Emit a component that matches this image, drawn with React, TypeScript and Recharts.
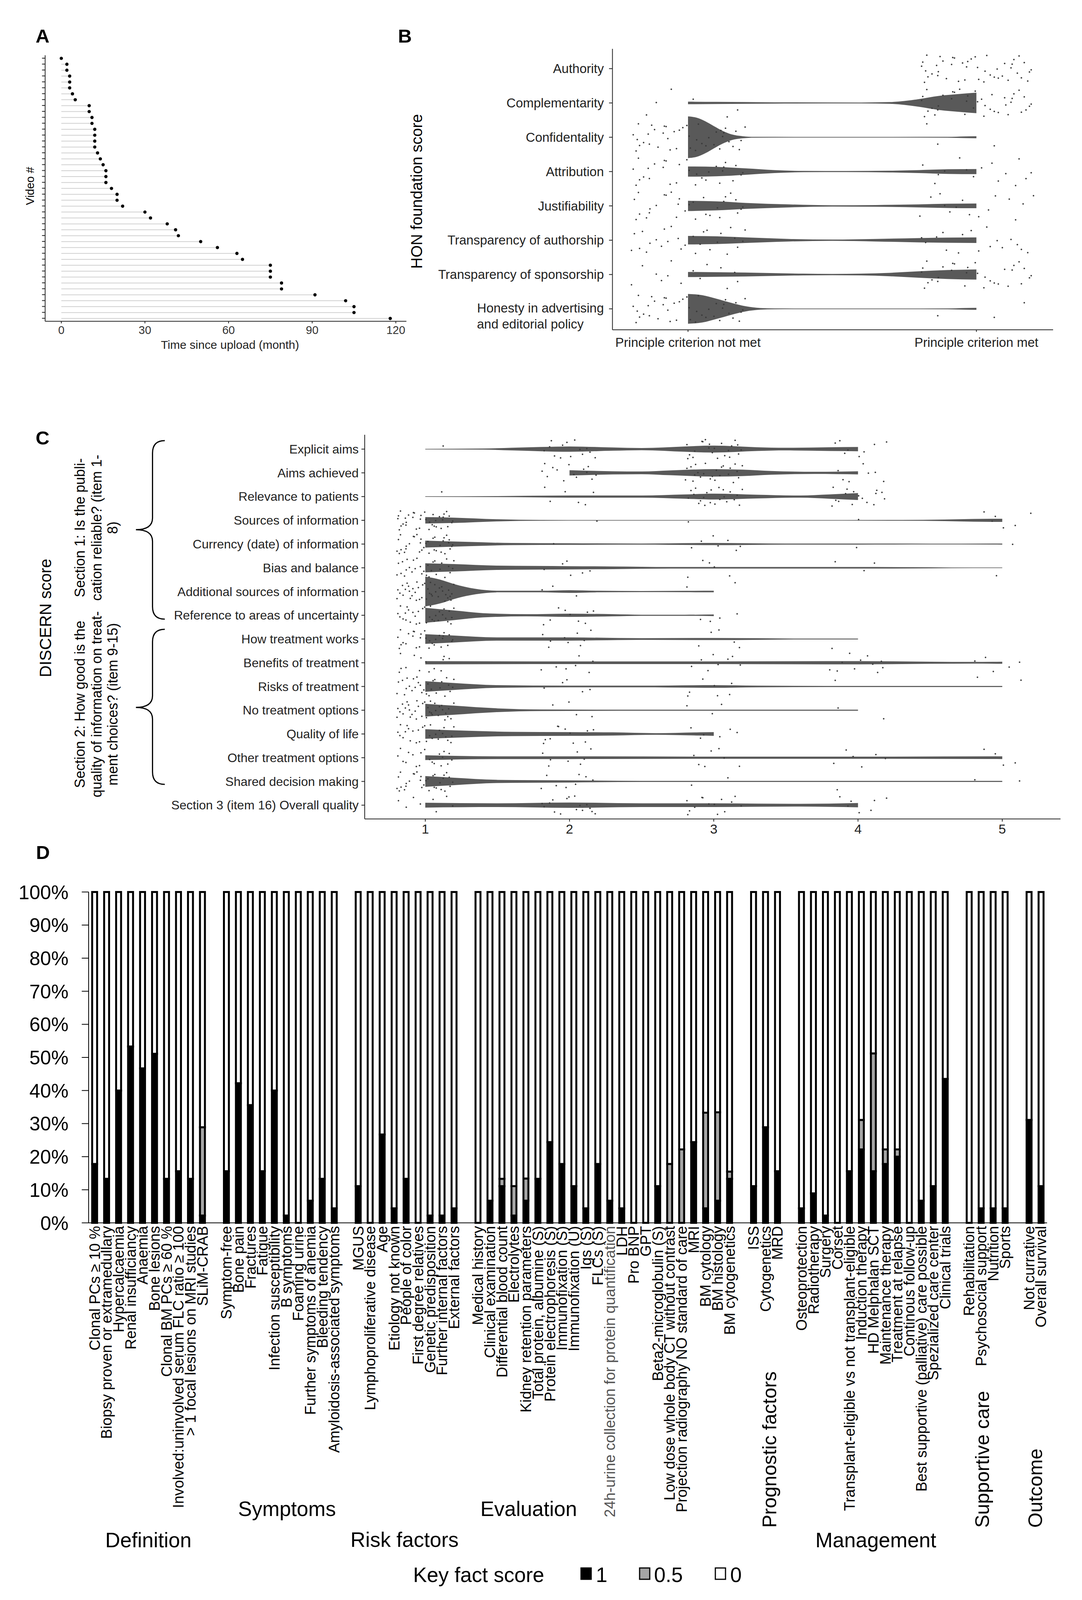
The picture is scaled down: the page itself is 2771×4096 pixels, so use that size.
import React from "react";
import { ComposedChart, BarChart, Bar, Area, Scatter, XAxis, YAxis } from "recharts";

const FONT = "'Liberation Sans', Arial, Helvetica, sans-serif";

// ---------- Panel A: time since upload per video ----------
const VIDEO_MONTHS = [
  0, 2, 2, 3, 3, 3, 4, 5, 10, 10, 11, 11, 12, 12, 12, 12, 13, 14, 15, 16, 16, 16, 18,
  20, 20, 22, 30, 32, 38, 41, 42, 50, 56, 63, 65, 75, 75, 75, 79, 79, 91, 102, 105, 105, 118,
];
const MONTH_TICKS = [0, 30, 60, 90, 120];

// ---------- Panel B: HON foundation score ----------
const HON_ITEMS = [
  "Authority",
  "Complementarity",
  "Confidentality",
  "Attribution",
  "Justifiability",
  "Transparency of authorship",
  "Transparency of sponsorship",
  "Honesty in advertising\nand editorial policy",
];
const HON_SCORES = [0, 1];
const HON_SCORE_LABELS = ["Principle criterion not met", "Principle criterion met"];
// videos per row scoring [not met, met]
const HON_COUNTS = [
  [0, 45], [6, 39], [42, 3], [30, 15], [30, 15], [28, 17], [14, 31], [42, 3],
];
// violin half-widths [score, width] (width in reference px, one row = 161 px)
const HON_VIOLINS: (number[][] | null)[] = [
  null,
  [[0, 6], [0.1, 5], [0.3, 3], [0.6, 2], [0.7, 4], [0.75, 9], [0.8, 18], [0.87, 33], [0.95, 43], [1, 48]],
  [[0, 98], [0.03, 92], [0.06, 75], [0.09, 52], [0.12, 30], [0.15, 14], [0.19, 5], [0.23, 2], [0.5, 1.5], [0.9, 2], [0.96, 4], [1, 5]],
  [[0, 24], [0.1, 22], [0.2, 15], [0.3, 7], [0.4, 3], [0.55, 2.5], [0.7, 4], [0.8, 7], [0.9, 11], [1, 12]],
  [[0, 24], [0.1, 21], [0.2, 14], [0.35, 7], [0.5, 3], [0.65, 4], [0.8, 7], [0.9, 10], [1, 11]],
  [[0, 20], [0.1, 18], [0.2, 13], [0.35, 6], [0.5, 3], [0.65, 6], [0.8, 10], [0.9, 12], [1, 13]],
  [[0, 12], [0.2, 9], [0.4, 4], [0.5, 3], [0.6, 4], [0.7, 8], [0.8, 15], [0.9, 21], [1, 24]],
  [[0, 70], [0.05, 64], [0.1, 47], [0.15, 28], [0.2, 12], [0.25, 4], [0.3, 2], [0.6, 1.5], [0.9, 2], [0.96, 4], [1, 5]],
];
const HON_ROW_PX = 161;

// ---------- Panel C: DISCERN score ----------
const DISCERN_ITEMS = [
  "Explicit aims",
  "Aims achieved",
  "Relevance to patients",
  "Sources of information",
  "Currency (date) of information",
  "Bias and balance",
  "Additional sources of information",
  "Reference to areas of uncertainty",
  "How treatment works",
  "Benefits of treatment",
  "Risks of treatment",
  "No treatment options",
  "Quality of life",
  "Other treatment options",
  "Shared decision making",
  "Section 3 (item 16) Overall quality",
];
const DISCERN_SCORES = [1, 2, 3, 4, 5];
// videos per row scoring 1..5
const DISCERN_COUNTS = [
  [1, 14, 22, 8, 0], [0, 14, 24, 7, 0], [1, 6, 22, 16, 0], [36, 1, 1, 1, 6],
  [35, 1, 7, 1, 1], [30, 6, 5, 3, 1], [40, 3, 2, 0, 0], [32, 9, 4, 0, 0],
  [30, 9, 5, 1, 0], [14, 7, 8, 11, 5], [30, 5, 7, 1, 2], [36, 4, 3, 2, 0],
  [28, 11, 6, 0, 0], [20, 8, 7, 6, 4], [32, 8, 2, 1, 2], [8, 16, 14, 7, 0],
];
// violin half-widths [score, width] (width in reference px, one row = 89 px)
const DISCERN_VIOLINS = [
  [[1, 1], [1.4, 2], [1.6, 5], [1.8, 8], [2, 10], [2.3, 6], [2.5, 4], [2.8, 10], [3, 13], [3.3, 7], [3.5, 5], [3.8, 7], [4, 8]],
  [[2, 10], [2.3, 6], [2.5, 5], [2.7, 9], [3, 14], [3.2, 12], [3.4, 7], [3.7, 4], [4, 6]],
  [[1, 1], [1.5, 2], [2, 4], [2.5, 4], [2.8, 8], [3, 11], [3.3, 7], [3.6, 4], [3.8, 8], [4, 13]],
  [[1, 12], [1.2, 10], [1.5, 4], [1.8, 1.5], [2.5, 1], [3.5, 1], [4.3, 1.5], [4.6, 3], [4.8, 5], [5, 6]],
  [[1, 13], [1.3, 8], [1.6, 4], [2, 3], [2.5, 2], [3, 4], [3.5, 2], [4, 2], [4.5, 1.5], [5, 2]],
  [[1, 17], [1.2, 14], [1.5, 8], [2, 6], [2.3, 5], [2.7, 3], [3.2, 3], [4, 3], [4.5, 2], [4.8, 1], [5, 1]],
  [[1, 56], [1.1, 45], [1.2, 28], [1.35, 10], [1.5, 3], [1.8, 3], [2, 5], [2.2, 3], [2.5, 2], [2.8, 2.5], [3, 3]],
  [[1, 28], [1.2, 18], [1.4, 8], [1.7, 4], [2, 6], [2.3, 4], [2.5, 2], [2.8, 2], [3, 3]],
  [[1, 18], [1.2, 13], [1.5, 6], [2, 6], [2.5, 3], [3, 4], [3.3, 3], [3.6, 1.5], [4, 1.5]],
  [[1, 6], [2, 5], [3, 5], [4, 6], [4.5, 4], [4.8, 3], [5, 4]],
  [[1, 20], [1.2, 13], [1.5, 5], [2, 3], [2.5, 3], [3, 5], [3.3, 3], [4, 2], [5, 2]],
  [[1, 24], [1.2, 17], [1.5, 7], [1.8, 3], [2.5, 2], [3, 2], [4, 2]],
  [[1, 18], [1.3, 12], [1.6, 8], [2, 7], [2.3, 6], [2.6, 3], [2.9, 6], [3, 7]],
  [[1, 9], [1.5, 5], [2, 5], [3, 4], [4, 4], [5, 5]],
  [[1, 20], [1.2, 14], [1.5, 6], [2, 4], [2.5, 2], [3.5, 2], [5, 2]],
  [[1, 9], [1.5, 7], [2, 10], [2.5, 7], [3, 7], [3.3, 6], [3.6, 5], [4, 8]],
];
const DISCERN_ROW_PX = 89;

// hand-read jitter offsets (fractions of the jitter width/height)
const JITTER = [
  [0.62, -0.31], [-0.84, 0.57], [0.13, 0.92], [-0.41, -0.77], [0.95, 0.08], [-0.17, -0.12], [0.38, 0.66], [-0.66, 0.21],
  [0.74, -0.88], [-0.93, -0.45], [0.27, -0.58], [-0.05, 0.35], [0.51, 0.14], [-0.72, 0.83], [0.86, 0.49], [-0.29, -0.95],
  [0.09, -0.26], [-0.55, -0.03], [0.68, 0.97], [-0.98, 0.71], [0.33, -0.69], [-0.12, 0.61], [0.81, -0.14], [-0.46, 0.42],
  [0.21, 0.28], [-0.79, -0.61], [0.57, -0.47], [-0.35, 0.09], [0.99, -0.71], [-0.63, -0.84], [0.04, 0.75], [-0.24, -0.39],
  [0.45, 0.52], [-0.88, 0.16], [0.71, 0.31], [-0.09, -0.67], [0.18, -0.91], [-0.52, 0.69], [0.89, 0.86], [-0.69, -0.22],
  [0.36, 0.03], [-0.31, 0.88], [0.6, -0.05], [-0.95, -0.17], [0.24, 0.44], [-0.58, -0.53], [0.78, 0.64], [-0.02, -0.82],
  [0.49, -0.36], [-0.77, 0.37], [0.15, 0.18], [-0.43, -0.29], [0.92, 0.23], [-0.2, 0.79], [0.65, -0.63], [-0.86, -0.93],
  [0.31, 0.59], [-0.67, 0.48], [0.83, -0.42], [-0.15, -0.49], [0.55, 0.81], [-0.38, -0.74], [0.02, -0.08], [-0.9, 0.95],
];

// ---------- Panel D: key facts ----------
const DEFINITION_ITEMS = [
  "Clonal PCs ≥ 10 %", "Biopsy proven or extramedullary", "Hypercalcaemia", "Renal insufficiancy",
  "Anaemia", "Bone lesions", "Clonal BM PCs ≥ 60 %", "Involved:uninvolved serum FLC ratio ≥ 100",
  "> 1 focal lesions on MRI studies", "SLiM-CRAB",
];
const DEFINITION_ONE = [17.8, 13.3, 40.0, 53.3, 46.7, 51.1, 13.3, 15.6, 13.3, 2.2];
const DEFINITION_HALF = [0, 0, 0, 0, 0, 0, 0, 0, 0, 26.7];

const SYMPTOM_ITEMS = [
  "Symptom-free", "Bone pain", "Fractures", "Fatigue", "Infection  susceptibility", "B symptoms",
  "Foaming urine", "Further symptoms of anemia", "Bleeding tendency", "Amyloidosis-associated symptoms",
];
const SYMPTOM_ONE = [15.6, 42.2, 35.6, 15.6, 40.0, 2.2, 0, 6.7, 13.3, 4.4];
const SYMPTOM_HALF = [0, 0, 0, 0, 0, 0, 0, 0, 0, 0];

const RISK_ITEMS = [
  "MGUS", "Lymphoproliferative disease", "Age", "Etiology not known", "People of color",
  "First degree relatives", "Genetic predisposition", "Further internal factors", "External factors",
];
const RISK_ONE = [11.1, 0, 26.7, 4.4, 13.3, 0, 2.2, 2.2, 4.4];
const RISK_HALF = [0, 0, 0, 0, 0, 0, 0, 0, 0];

const EVALUATION_ITEMS = [
  "Medical history", "Clinical examination", "Differential blood count", "Electrolytes",
  "Kidney retention parameters", "Total protein, albumine (S)", "Protein electrophoresis (S)",
  "Immunofixation (S)", "Immunofixation (U)", "Igs (S)", "FLCs (S)",
  "24h-urine collection for protein quantification", "LDH", "Pro BNP", "GPT", "Beta2-microglobulin (S)",
  "Low dose whole body CT without contrast", "Projection radiography NO standard of care", "MRI",
  "BM cytology", "BM histology", "BM cytogenetics",
];
const EVALUATION_ONE = [0, 6.7, 11.1, 2.2, 6.7, 13.3, 24.4, 17.8, 11.1, 4.4, 17.8, 6.7, 4.4, 0, 0, 11.1, 0, 0, 24.4, 4.4, 6.7, 13.3];
const EVALUATION_HALF = [0, 0, 2.2, 8.9, 6.7, 0, 0, 0, 0, 0, 0, 0, 0, 0, 0, 0, 17.8, 22.2, 0, 28.9, 26.7, 2.2];

const PROGNOSTIC_ITEMS = ["ISS", "Cytogenetics", "MRD"];
const PROGNOSTIC_ONE = [11.1, 28.9, 15.6];
const PROGNOSTIC_HALF = [0, 0, 0];

const MANAGEMENT_ITEMS = [
  "Osteoprotection", "Radiotherapy", "Surgery", "Corset", "Transplant-eligible vs not transplant-eligible",
  "Induction therapy", "HD Melphalan SCT", "Maintenance therapy", "Treatment at relapse",
  "Continous follow-up", "Best supportive (palliative) care possible", "Spezialized care center", "Clinical trials",
];
const MANAGEMENT_ONE = [4.4, 8.9, 2.2, 0, 15.6, 22.2, 15.6, 17.8, 20.0, 0, 6.7, 11.1, 43.5];
const MANAGEMENT_HALF = [0, 0, 0, 0, 0, 8.9, 35.6, 4.4, 2.2, 0, 0, 0, 0];

const SUPPORTIVE_ITEMS = ["Rehabilitation", "Psychosocial support", "Nutrition", "Sports"];
const SUPPORTIVE_ONE = [0, 4.4, 4.4, 4.4];
const SUPPORTIVE_HALF = [0, 0, 0, 0];

const OUTCOME_ITEMS = ["Not currative", "Overall survival"];
const OUTCOME_ONE = [31.1, 11.1];
const OUTCOME_HALF = [0, 0];

const PERCENT_TICKS = [0, 10, 20, 30, 40, 50, 60, 70, 80, 90, 100];
const KEY_LABELS = ["1", "0.5", "0"];
const KEY_FILLS = ["#000000", "#a6a6a6", "#ffffff"];

// ---------- data assembly ----------
const videoData = VIDEO_MONTHS.map((m, i) => ({ id: i + 1, months: m }));

function jitterDots(counts: number[][], scores: number[]) {
  return counts.flatMap((row, i) =>
    row.flatMap((n, s) =>
      Array.from({ length: n }, (_, k) => {
        const j = JITTER[(i * 13 + s * 29 + k) % JITTER.length];
        return { x: scores[s] + j[0] * 0.2, y: i + 1 + j[1] * 0.42 };
      })
    )
  );
}
const honDots = jitterDots(HON_COUNTS, HON_SCORES);
const discernDots = jitterDots(DISCERN_COUNTS, DISCERN_SCORES);

function violinData(profile: number[][], row: number, rowPx: number) {
  return profile.map(([x, w]) => ({ x, r: [row - w / rowPx, row + w / rowPx] }));
}

const GROUPS = [
  { items: DEFINITION_ITEMS, one: DEFINITION_ONE, half: DEFINITION_HALF },
  { items: SYMPTOM_ITEMS, one: SYMPTOM_ONE, half: SYMPTOM_HALF },
  { items: RISK_ITEMS, one: RISK_ONE, half: RISK_HALF },
  { items: EVALUATION_ITEMS, one: EVALUATION_ONE, half: EVALUATION_HALF },
  { items: PROGNOSTIC_ITEMS, one: PROGNOSTIC_ONE, half: PROGNOSTIC_HALF },
  { items: MANAGEMENT_ITEMS, one: MANAGEMENT_ONE, half: MANAGEMENT_HALF },
  { items: SUPPORTIVE_ITEMS, one: SUPPORTIVE_ONE, half: SUPPORTIVE_HALF },
  { items: OUTCOME_ITEMS, one: OUTCOME_ONE, half: OUTCOME_HALF },
];
const keyFactData: any[] = [];
GROUPS.forEach((g, gi) => {
  if (gi > 0) keyFactData.push({ name: `gap${gi}`, one: null, half: null, zero: null });
  g.items.forEach((name, i) => {
    const one = g.one[i];
    const half = g.half[i];
    keyFactData.push({ name, one, half, zero: +(100 - one - half).toFixed(1) });
  });
});

// ---------- tick renderers ----------
const EmptyTick = () => <g />;

const MonthTick = ({ x, y, payload }: any) => (
  <text x={x} y={y} dy="0.71em" textAnchor="middle" fontSize={29} fontFamily={FONT} fill="#333">
    {payload.value}
  </text>
);

const HonRowTick = ({ x, y, payload }: any) => {
  const lines = String(HON_ITEMS[payload.value - 1] ?? "").split("\n");
  if (lines.length > 1) {
    return (
      <g fontSize={33} fontFamily={FONT} fill="#222">
        <text x={x} y={y - 2} dy="0.35em" textAnchor="end">{lines[0]}</text>
        <text x={x - 325} y={y + 39} dy="0.35em" textAnchor="start">{lines[1]}</text>
      </g>
    );
  }
  return (
    <text x={x} y={y} dy="0.35em" textAnchor="end" fontSize={33} fontFamily={FONT} fill="#222">
      {lines[0]}
    </text>
  );
};

const HonScoreTick = ({ x, y, payload }: any) => (
  <text x={x} y={y} dy="0.71em" textAnchor="middle" fontSize={33} fontFamily={FONT} fill="#222">
    {HON_SCORE_LABELS[payload.value]}
  </text>
);

const DiscernRowTick = ({ x, y, payload }: any) => (
  <text x={x} y={y} dy="0.35em" textAnchor="end" fontSize={32} fontFamily={FONT} fill="#222">
    {DISCERN_ITEMS[payload.value - 1]}
  </text>
);

const DiscernScoreTick = ({ x, y, payload }: any) => (
  <text x={x} y={y} dy="0.71em" textAnchor="middle" fontSize={34} fontFamily={FONT} fill="#222">
    {payload.value}
  </text>
);

const KeyFactTick = ({ x, y, payload }: any) => {
  const label = String(payload.value);
  if (label.startsWith("gap")) return <g />;
  return (
    <text
      transform={`translate(${x},${y}) rotate(-90)`}
      textAnchor="end"
      dy="0.35em"
      fontSize={38}
      fontFamily={FONT}
      fill={label.startsWith("24h") ? "#555" : "#000"}
    >
      {label}
    </text>
  );
};

const PercentTick = ({ x, y, payload }: any) => (
  <text x={x} y={y} dy="0.36em" textAnchor="end" fontSize={50} fontFamily={FONT} fill="#000">
    {`${payload.value}%`}
  </text>
);

const Lollipop = (props: any) => {
  const { x, y, width, height } = props;
  const cy = y + height / 2;
  return (
    <g>
      <line x1={x} y1={cy} x2={x + width} y2={cy} stroke="#d0d0d0" strokeWidth={2} />
      <circle cx={x + width} cy={cy} r={4.2} fill="#000" />
    </g>
  );
};

const Dot = (props: any) => <circle cx={props.cx} cy={props.cy} r={2} fill="#3a3a3a" />;

const axisStroke = { stroke: "#222", strokeWidth: 2 };

// ---------- overlay text ----------
const Rot = ({ x, y, size, children, anchor = "middle", bold = false }: any) => (
  <text
    transform={`translate(${x},${y}) rotate(-90)`}
    textAnchor={anchor}
    dy="0.35em"
    fontSize={size}
    fontFamily={FONT}
    fontWeight={bold ? "bold" : "normal"}
    fill="#000"
  >
    {children}
  </text>
);

const Brace = ({ top, tip, bottom }: { top: number; tip: number; bottom: number }) => {
  const xs = 390.6, xe = 422, xt = 348;
  const d = `M ${xe} ${top} Q ${xs} ${top} ${xs} ${top + 32} L ${xs} ${tip - 30} Q ${xs} ${tip} ${xt} ${tip} Q ${xs} ${tip} ${xs} ${tip + 30} L ${xs} ${bottom - 32} Q ${xs} ${bottom} ${xe} ${bottom}`;
  return <path d={d} fill="none" stroke="#000" strokeWidth={3} />;
};

function Overlay() {
  const keyX = [1488, 1638, 1832];
  const keyTextX = [1526, 1675, 1870];
  return (
    <svg width={2771} height={4096} style={{ position: "absolute", left: 0, top: 0, pointerEvents: "none" }}>
      <g fontFamily={FONT} fontWeight="bold" fontSize={49} textAnchor="middle" fill="#000">
        <text x={109} y={91} dy="0.36em">A</text>
        <text x={1037} y={91} dy="0.36em">B</text>
        <text x={109} y={1120} dy="0.36em">C</text>
        <text x={110} y={2181} dy="0.36em">D</text>
      </g>
      {/* panel A titles */}
      <Rot x={77} y={476} size={29}>Video #</Rot>
      <text x={589} y={882} dy="0.35em" textAnchor="middle" fontSize={30} fontFamily={FONT} fill="#222">
        Time since upload (month)
      </text>
      {/* panel B title */}
      <Rot x={1067} y={490} size={40}>HON foundation score</Rot>
      {/* panel C titles */}
      <Rot x={116} y={1582} size={42}>DISCERN score</Rot>
      <Rot x={204} y={1351} size={36}>Section 1: Is the publi-</Rot>
      <Rot x={247} y={1351} size={36}>cation reliable? (item 1-</Rot>
      <Rot x={288} y={1351} size={36}>8)</Rot>
      <Rot x={204} y={1803} size={36}>Section 2: How good is the</Rot>
      <Rot x={247} y={1803} size={36}>quality of information on treat-</Rot>
      <Rot x={288} y={1803} size={36}>ment choices? (item 9-15)</Rot>
      <Brace top={1128} tip={1356} bottom={1585} />
      <Brace top={1611} tip={1811} bottom={2008} />
      {/* panel D group labels */}
      <g fontFamily={FONT} fontSize={53} textAnchor="middle" fill="#000">
        <text x={380} y={3942} dy="0.36em">Definition</text>
        <text x={735} y={3862} dy="0.36em">Symptoms</text>
        <text x={1036} y={3941} dy="0.36em">Risk factors</text>
        <text x={1354} y={3862} dy="0.36em">Evaluation</text>
        <text x={2243} y={3942} dy="0.36em">Management</text>
      </g>
      <Rot x={1970} y={3911} size={50} anchor="start">Prognostic factors</Rot>
      <Rot x={2515} y={3911} size={50} anchor="start">Supportive care</Rot>
      <Rot x={2651} y={3911} size={50} anchor="start">Outcome</Rot>
      {/* legend */}
      <text x={1058} y={4031} dy="0.36em" fontSize={53} fontFamily={FONT} fill="#000">Key fact score</text>
      {KEY_LABELS.map((lab, i) => (
        <g key={lab}>
          <rect x={keyX[i]} y={4014} width={26} height={29} fill={KEY_FILLS[i]} stroke="#000" strokeWidth={3} />
          <text x={keyTextX[i]} y={4031} dy="0.36em" fontSize={53} fontFamily={FONT} fill="#000">{lab}</text>
        </g>
      ))}
    </svg>
  );
}

export default function App() {
  return (
    <div style={{ position: "absolute", left: 0, top: 0, width: 2771, height: 4096, background: "#fff", overflow: "hidden" }}>
      {/* A */}
      <div style={{ position: "absolute", left: 0, top: 0 }}>
        <ComposedChart
          layout="vertical"
          width={1100}
          height={920}
          data={videoData}
          margin={{ top: 141.4, right: 59.2, bottom: 37.6, left: 0 }}
        >
          <XAxis
            type="number"
            domain={[-5.8, 123.8]}
            allowDataOverflow
            ticks={MONTH_TICKS}
            height={60}
            tickSize={5.4}
            tickMargin={6.8}
            tick={MonthTick}
            axisLine={axisStroke}
            tickLine={axisStroke}
          />
          <YAxis
            type="category"
            dataKey="id"
            width={115.6}
            interval={0}
            tickSize={8}
            tick={EmptyTick}
            axisLine={axisStroke}
            tickLine={axisStroke}
          />
          <Bar dataKey="months" barSize={4} shape={Lollipop} isAnimationActive={false} />
        </ComposedChart>
      </div>

      {/* B */}
      <div style={{ position: "absolute", left: 1100, top: 60 }}>
        <ComposedChart width={1640} height={880} margin={{ top: 65, right: 43, bottom: 35.8, left: 0 }}>
          <XAxis
            type="number"
            dataKey="x"
            domain={[-0.262, 1.266]}
            allowDataOverflow
            ticks={HON_SCORES}
            height={60}
            tickSize={5.4}
            tickMargin={15.3}
            tick={HonScoreTick}
            axisLine={axisStroke}
            tickLine={axisStroke}
          />
          <YAxis
            type="number"
            dataKey="y"
            reversed
            domain={[0.423, 8.61]}
            allowDataOverflow
            ticks={HON_ITEMS.map((_, i) => i + 1)}
            interval={0}
            width={468.5}
            tickSize={8.8}
            tickMargin={13.2}
            tick={HonRowTick}
            axisLine={axisStroke}
            tickLine={axisStroke}
          />
          {HON_VIOLINS.map((p, i) =>
            p ? (
              <Area
                key={`hv${i}`}
                data={violinData(p, i + 1, HON_ROW_PX)}
                dataKey="r"
                type="monotone"
                stroke="none"
                fill="#595959"
                fillOpacity={1}
                dot={false}
                activeDot={false}
                isAnimationActive={false}
              />
            ) : null
          )}
          <Scatter data={honDots} shape={Dot} isAnimationActive={false} />
        </ComposedChart>
      </div>

      {/* C */}
      <div style={{ position: "absolute", left: 0, top: 1050 }}>
        <ComposedChart width={2771} height={1150} margin={{ top: 63, right: 55, bottom: 43.5, left: 0 }}>
          <XAxis
            type="number"
            dataKey="x"
            domain={[0.58, 5.404]}
            allowDataOverflow
            ticks={DISCERN_SCORES}
            height={60}
            tickSize={6.8}
            tickMargin={7}
            tick={DiscernScoreTick}
            axisLine={axisStroke}
            tickLine={axisStroke}
          />
          <YAxis
            type="number"
            dataKey="y"
            reversed
            domain={[0.396, 16.58]}
            allowDataOverflow
            ticks={DISCERN_ITEMS.map((_, i) => i + 1)}
            interval={0}
            width={934}
            tickSize={8.4}
            tickMargin={7}
            tick={DiscernRowTick}
            axisLine={axisStroke}
            tickLine={axisStroke}
          />
          {DISCERN_VIOLINS.map((p, i) => (
            <Area
              key={`dv${i}`}
              data={violinData(p, i + 1, DISCERN_ROW_PX)}
              dataKey="r"
              type="monotone"
              stroke="none"
              fill="#595959"
              fillOpacity={1}
              dot={false}
              activeDot={false}
              isAnimationActive={false}
            />
          ))}
          <Scatter data={discernDots} shape={Dot} isAnimationActive={false} />
        </ComposedChart>
      </div>

      {/* D */}
      <div style={{ position: "absolute", left: 0, top: 2200 }}>
        <BarChart
          width={2771}
          height={1896}
          data={keyFactData}
          margin={{ top: 83.5, right: 89.5, bottom: 65.5, left: 0 }}
        >
          <XAxis
            dataKey="name"
            type="category"
            interval={0}
            height={900}
            tickSize={0}
            tickMargin={8}
            tick={KeyFactTick}
            tickLine={false}
            axisLine={{ stroke: "#000", strokeWidth: 2 }}
          />
          <YAxis
            type="number"
            domain={[0, 100]}
            ticks={PERCENT_TICKS}
            interval={0}
            width={227}
            tickSize={17.6}
            tickMargin={34}
            tick={PercentTick}
            axisLine={{ stroke: "#000", strokeWidth: 2 }}
            tickLine={{ stroke: "#000", strokeWidth: 2 }}
          />
          <Bar dataKey="one" name="1" stackId="k" fill="#000" stroke="#000" strokeWidth={5} barSize={12.7} isAnimationActive={false} />
          <Bar dataKey="half" name="0.5" stackId="k" fill="#a6a6a6" stroke="#000" strokeWidth={5} barSize={12.7} isAnimationActive={false} />
          <Bar dataKey="zero" name="0" stackId="k" fill="#fff" stroke="#000" strokeWidth={5} barSize={12.7} isAnimationActive={false} />
        </BarChart>
      </div>

      <Overlay />
    </div>
  );
}
